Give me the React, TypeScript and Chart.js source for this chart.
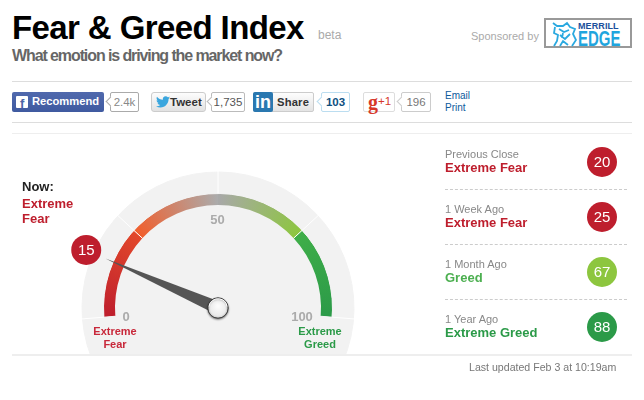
import React, { useEffect, useRef } from "react";
import { Chart, registerables } from "chart.js";

Chart.register(...registerables);

const gaugeValue = 15;
const gaugeSegments = [25, 25, 25, 25];
const gaugeTicks = [0, 25, 50, 75, 100];
const gaugeLabels = ["0", "50", "100"];
const historyLabels = ["Previous Close", "1 Week Ago", "1 Month Ago", "1 Year Ago"];
const historyRatings = ["Extreme Fear", "Extreme Fear", "Greed", "Extreme Greed"];
const historyValues = [20, 25, 67, 88];
const historyColors = ["#BE1E2D", "#BE1E2D", "#8DC63F", "#2B9A48"];
const ratingColors = ["#BE1E2D", "#BE1E2D", "#4CAF50", "#2B9A48"];

const FONT = '"Liberation Sans", Arial, sans-serif';
const GREY = "#F2F2F2";
const START = -94.6;
const SWEEP = 189.2;
const CX = 218;
const CY = 308;

const valueAngle = (v: number) => ((START - 90 + (v / 100) * SWEEP) * Math.PI) / 180;

const gaugeOverlay = {
  id: "gaugeOverlay",
  afterDatasetsDraw(chart: any) {
    const { ctx, chartArea } = chart;
    const x = (chartArea.left + chartArea.right) / 2;
    const y = (chartArea.top + chartArea.bottom) / 2;
    const band = chart.getDatasetMeta(1).data[0];
    const rOuter = chart.getDatasetMeta(0).data[0].outerRadius;
    const rIn = band.innerRadius;
    const rOut = band.outerRadius;
    ctx.save();
    // separators
    ctx.strokeStyle = "#fff";
    ctx.lineWidth = 1;
    gaugeTicks.forEach((t) => {
      const a = valueAngle(t);
      const r0 = t === 25 || t === 75 ? rIn : rOut;
      ctx.beginPath();
      ctx.moveTo(x + r0 * Math.cos(a), y + r0 * Math.sin(a));
      ctx.lineTo(x + (rOuter + 1) * Math.cos(a), y + (rOuter + 1) * Math.sin(a));
      ctx.stroke();
    });
    // scale labels
    ctx.textAlign = "center";
    ctx.textBaseline = "middle";
    ctx.font = `bold 13px ${FONT}`;
    ctx.fillStyle = "#ABABAB";
    ctx.fillText(gaugeLabels[0], x - 92, y + 9);
    ctx.fillText(gaugeLabels[1], x - 0.5, y - 88);
    ctx.fillText(gaugeLabels[2], x + 84, y + 9);
    ctx.font = `bold 11px ${FONT}`;
    ctx.fillStyle = "#C8283A";
    ctx.fillText("Extreme", x - 103, y + 24);
    ctx.fillText("Fear", x - 103, y + 37);
    ctx.fillStyle = "#2B9A48";
    ctx.fillText("Extreme", x + 102, y + 24);
    ctx.fillText("Greed", x + 102, y + 37);
    // needle
    const a = valueAngle(gaugeValue);
    const ux = Math.cos(a);
    const uy = Math.sin(a);
    ctx.fillStyle = "#555";
    ctx.beginPath();
    ctx.moveTo(x + 123 * ux, y + 123 * uy);
    ctx.lineTo(x - 6.5 * uy, y + 6.5 * ux);
    ctx.lineTo(x + 6.5 * uy, y - 6.5 * ux);
    ctx.closePath();
    ctx.fill();
    // hub
    ctx.shadowColor = "rgba(0,0,0,0.45)";
    ctx.shadowBlur = 2;
    ctx.shadowOffsetY = 1;
    const g = ctx.createRadialGradient(x, y - 2, 1, x, y, 11);
    g.addColorStop(0, "#FBFBFB");
    g.addColorStop(0.7, "#EBEBEB");
    g.addColorStop(1, "#CFCFCF");
    ctx.fillStyle = g;
    ctx.strokeStyle = "#3A3A3A";
    ctx.lineWidth = 1;
    ctx.beginPath();
    ctx.arc(x, y, 10.2, 0, Math.PI * 2);
    ctx.fill();
    ctx.stroke();
    ctx.shadowColor = "transparent";
    ctx.strokeStyle = "#fff";
    ctx.beginPath();
    ctx.arc(x, y, 9.2, Math.PI * 1.05, Math.PI * 1.95);
    ctx.stroke();
    // value badge
    const bx = x + 144 * ux;
    const by = y + 144 * uy;
    ctx.fillStyle = "#BE1E2D";
    ctx.beginPath();
    ctx.arc(bx, by, 15, 0, Math.PI * 2);
    ctx.fill();
    ctx.fillStyle = "#fff";
    ctx.font = `15px ${FONT}`;
    ctx.fillText(String(gaugeValue), bx, by + 0.5);
    ctx.restore();
  },
};

function GaugeChart() {
  const ref = useRef<HTMLCanvasElement>(null);
  useEffect(() => {
    const canvas = ref.current!;
    const bandFill = (c: any) => {
      const i = c.dataIndex;
      if (i >= gaugeSegments.length) return GREY;
      const chart = c.chart;
      const area = chart.chartArea;
      if (!area) return GREY;
      const x = (area.left + area.right) / 2;
      const y = (area.top + area.bottom) / 2;
      const g = chart.ctx.createConicGradient(valueAngle(0), x, y);
      const f = (v: number) => Math.min(1, (v / 100) * (SWEEP / 360));
      const stops = [
        [["#BE1E2D", 0], ["#E2482B", 24.9]],
        [["#F15E2C", 25.1], ["#ABABAB", 49.9]],
        [["#A8A8A8", 50.1], ["#8DC63F", 74.9]],
        [["#3FAE49", 75.1], ["#2B9A48", 100]],
      ][i] as [string, number][];
      g.addColorStop(0, stops[0][0]);
      g.addColorStop(f(stops[0][1]), stops[0][0]);
      g.addColorStop(f(stops[1][1]), stops[1][0]);
      g.addColorStop(1, stops[1][0]);
      return g;
    };
    const gap = (100 * (360 - SWEEP)) / SWEEP;
    const chart = new Chart(canvas, {
      type: "doughnut",
      data: {
        labels: ["Extreme Fear", "Fear", "Greed", "Extreme Greed", ""],
        datasets: [
          { data: [1], backgroundColor: GREY, borderColor: GREY, borderWidth: 1, weight: 21.5 },
          {
            data: [...gaugeSegments, gap],
            backgroundColor: bandFill,
            borderWidth: [0, 0, 0, 0, 1],
            borderColor: GREY,
            weight: 11.5,
          },
          { data: [1], backgroundColor: GREY, borderColor: GREY, borderWidth: 1, weight: 103 },
        ],
      } as any,
      options: {
        animation: false,
        responsive: false,
        rotation: START,
        circumference: 360,
        cutout: 0,
        layout: { padding: { left: CX - 136.5, right: 644 - CX - 136.5, top: CY - 136.5, bottom: 500 - CY - 136.5 } },
        plugins: { legend: { display: false }, tooltip: { enabled: false } },
      } as any,
      plugins: [gaugeOverlay],
    });
    return () => chart.destroy();
  }, []);
  return (
    <div style={{ position: "absolute", left: 0, top: 0, width: 644, height: 354, overflow: "hidden" }}>
      <canvas ref={ref} width={644} height={500} style={{ position: "absolute", left: 0, top: 0, width: 644, height: 500 }} />
    </div>
  );
}

const T = ({ x, y, style, children }: any) => (
  <div style={{ position: "absolute", left: x, top: y, whiteSpace: "nowrap", lineHeight: 1, ...style }}>{children}</div>
);
const Box = ({ x, y, w, h, style, children }: any) => (
  <div style={{ position: "absolute", left: x, top: y, width: w, height: h, boxSizing: "border-box", ...style }}>{children}</div>
);
const Rule = ({ y, color = "#DDD", h = 1 }: any) => <Box x={12} y={y} w={620} h={h} style={{ background: color }} />;

const Count = ({ x, w, text, color = "#666", border = "#BBB", bold = false }: any) => (
  <Box
    x={x}
    y={92}
    w={w}
    h={20}
    style={{
      border: `1px solid ${border}`,
      borderRadius: 2,
      background: "#fff",
      color,
      fontSize: 11.5,
      fontWeight: bold ? 700 : 400,
      textAlign: "center",
      lineHeight: "18px",
    }}
  >
    <div
      style={{
        position: "absolute",
        left: -4,
        top: 5,
        width: 6,
        height: 6,
        background: "#fff",
        borderLeft: `1px solid ${border}`,
        borderBottom: `1px solid ${border}`,
        transform: "rotate(45deg)",
      }}
    />
    <span style={{ position: "relative" }}>{text}</span>
  </Box>
);

export default function App() {
  return (
    <div style={{ position: "absolute", left: 0, top: 0, width: 644, height: 400, overflow: "hidden", background: "#fff", fontFamily: FONT }}>
      <T x={12} y={11} style={{ fontSize: 33, fontWeight: 700, color: "#000", letterSpacing: -0.6 }}>Fear &amp; Greed Index</T>
      <T x={318} y={29} style={{ fontSize: 12, color: "#AAA" }}>beta</T>
      <T x={12} y={48} style={{ fontSize: 16, fontWeight: 700, color: "#666", letterSpacing: -1.1 }}>What emotion is driving the market now?</T>
      <T x={471} y={31} style={{ fontSize: 11, color: "#AAA" }}>Sponsored by</T>
      <Box x={544} y={18} w={88} h={30} style={{ border: "2px solid #999", background: "#fff" }}>
        <svg width="25" height="26" style={{ position: "absolute", left: 6, top: 1 }} viewBox="0 0 25 26" fill="none" stroke="#2AA9E0" strokeWidth="1.8">
          <path d="M1 2 L5 5 L11 5 L15 2 L18 6 L23 8 L21 13 L24 19 L20 25 M3 6 L2 12 L6 14 L5 20 L2 25 M7 8 L12 11 L17 9 M8 14 L13 18 L18 13 M8 25 L11 20 L16 24 M11 12 L10 17" />
        </svg>
        <T x={32} y={2} style={{ fontSize: 9, fontWeight: 700, color: "#1B4F9C", letterSpacing: 0.1 }}>MERRILL</T>
        <T x={32} y={8} style={{ fontSize: 22, fontWeight: 700, color: "#1FA5DE", transform: "scaleX(0.68)", transformOrigin: "left" }}>EDGE</T>
      </Box>
      <Rule y={81} />

      <Box x={12} y={92} w={92} h={20} style={{ background: "linear-gradient(#5069AD,#3F5AA0)", borderRadius: 2 }}>
        <Box x={4} y={4} w={12} h={12} style={{ background: "#fff", borderRadius: 1 }}>
          <T x={4} y={1} style={{ fontSize: 13, fontWeight: 700, color: "#4A66A8" }}>f</T>
        </Box>
        <T x={20} y={4} style={{ fontSize: 11.2, fontWeight: 700, color: "#fff" }}>Recommend</T>
      </Box>
      <Count x={110} w={29} text="2.4k" color="#888" border="#AAA" />

      <Box x={151} y={92} w={55} h={20} style={{ background: "linear-gradient(#FDFDFD,#E2E2E2)", border: "1px solid #CCC", borderRadius: 3 }}>
        <svg width="14" height="12" viewBox="0 0 24 20" style={{ position: "absolute", left: 4, top: 3 }}>
          <path fill="#3AA6DE" d="M24 2.4c-.9.4-1.8.7-2.8.8 1-.6 1.8-1.6 2.2-2.7-1 .6-2 1-3.1 1.2A4.9 4.9 0 0 0 11.9 6.2C7.8 6 4.1 4 1.7.9c-1.3 2.200-.7 5.100 1.500 6.600-.8 0-1.600-.2-2.200-.6 0 2.400 1.700 4.400 3.900 4.900-.7.2-1.500.2-2.200.1.600 2 2.400 3.400 4.600 3.400A9.900 9.900 0 0 1 0 17.300 14 14 0 0 0 7.500 19.500c9.100 0 14.300-7.700 14-14.600 1-.7 1.800-1.600 2.500-2.500z" />
        </svg>
        <T x={18} y={4} style={{ fontSize: 11.5, fontWeight: 700, color: "#333" }}>Tweet</T>
      </Box>
      <Count x={211} w={34} text="1,735" color="#555" border="#BBB" />

      <Box x={253} y={92} w={61} h={20} style={{ background: "linear-gradient(#FDFDFD,#E4E4E4)", border: "1px solid #CCC", borderRadius: 2 }}>
        <Box x={-1} y={-1} w={20} h={20} style={{ background: "#2A78B0", borderRadius: 2 }}>
          <T x={2} y={1} style={{ fontSize: 18, fontWeight: 700, color: "#fff" }}>in</T>
        </Box>
        <T x={23} y={4} style={{ fontSize: 11.2, fontWeight: 700, color: "#333", letterSpacing: 0.2 }}>Share</T>
      </Box>
      <Count x={321} w={29} text="103" color="#0E4F7F" border="#BBDDF0" bold />

      <Box x={363} y={92} w={32} h={20} style={{ background: "#fff", border: "1px solid #DDD", borderRadius: 2 }}>
        <T x={4} y={-1} style={{ fontFamily: '"Liberation Serif", serif', fontSize: 20, fontWeight: 700, color: "#D7382A" }}>g</T>
        <T x={14} y={3} style={{ fontSize: 11.5, color: "#D7382A" }}>+1</T>
      </Box>
      <Count x={401} w={30} text="196" color="#777" border="#CCC" />

      <T x={445} y={91} style={{ fontSize: 10, color: "#0E5A9C" }}>Email</T>
      <T x={445} y={103} style={{ fontSize: 10, color: "#0E5A9C" }}>Print</T>
      <Rule y={122} />
      <Rule y={133} color="#EEE" />

      <GaugeChart />

      <T x={22} y={180} style={{ fontSize: 13, fontWeight: 700, color: "#222" }}>Now:</T>
      <T x={22} y={197} style={{ fontSize: 13, fontWeight: 700, color: "#BE1E2D" }}>Extreme</T>
      <T x={22} y={212} style={{ fontSize: 13, fontWeight: 700, color: "#BE1E2D" }}>Fear</T>

      {historyLabels.map((label, i) => (
        <React.Fragment key={label}>
          <T x={445} y={149 + 55 * i} style={{ fontSize: 11, color: "#888" }}>{label}</T>
          <T x={445} y={161 + 55 * i} style={{ fontSize: 13, fontWeight: 700, color: ratingColors[i] }}>{historyRatings[i]}</T>
          <Box x={587} y={147 + 55 * i} w={30} h={30} style={{ borderRadius: "50%", background: historyColors[i], color: "#fff", fontSize: 15, textAlign: "center", lineHeight: "30px" }}>
            {historyValues[i]}
          </Box>
          {i < 3 && <Box x={445} y={189 + 55 * i} w={182} h={1} style={{ borderTop: "1px dashed #CCC" }} />}
        </React.Fragment>
      ))}

      <Rule y={354} color="#EEE" h={2} />
      <T x={469} y={362} style={{ fontSize: 10.6, color: "#777" }}>Last updated Feb 3 at 10:19am</T>
    </div>
  );
}
